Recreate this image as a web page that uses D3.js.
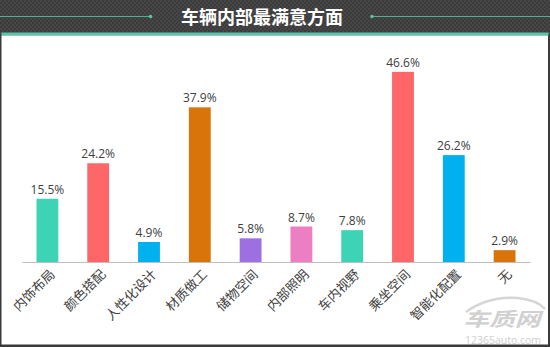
<!DOCTYPE html>
<html>
<head>
<meta charset="utf-8">
<script src="https://cdn.jsdelivr.net/npm/d3@7"></script>
<style>
  html, body { margin: 0; padding: 0; background: #3a3a3a; }
  svg { display: block; }
</style>
</head>
<body>
<svg id="chart" width="550" height="347"></svg>
<script>
// Survey: most satisfying aspects of the car interior (%)
const categories = ["内饰布局", "颜色搭配", "人性化设计", "材质做工", "储物空间", "内部照明", "车内视野", "乘坐空间", "智能化配置", "无"];
const values = [15.5, 24.2, 4.9, 37.9, 5.8, 8.7, 7.8, 46.6, 26.2, 2.9];
const barColors = ["#3dd3b5", "#fe6668", "#00b0ef", "#d9740b", "#9d6fe0", "#ee7ec3", "#3dd3b5", "#fe6668", "#00b0ef", "#d9740b"];
const title = "车辆内部最满意方面";

const W = 550, H = 347;
const svg = d3.select("#chart");
const defs = svg.append("defs");

// fine checkered texture for the header band
const pat = defs.append("pattern").attr("id", "checker")
  .attr("width", 4).attr("height", 4).attr("patternUnits", "userSpaceOnUse");
pat.append("rect").attr("width", 4).attr("height", 4).attr("fill", "#3b3b3b");
pat.append("rect").attr("width", 2).attr("height", 2).attr("fill", "#474747");
pat.append("rect").attr("x", 2).attr("y", 2).attr("width", 2).attr("height", 2).attr("fill", "#474747");

svg.append("rect").attr("width", W).attr("height", H).attr("fill", "#3a3a3a");
svg.append("rect").attr("width", W).attr("height", 34).attr("fill", "url(#checker)");

// teal strip under the header
svg.append("rect").attr("x", 1.5).attr("y", 32.5).attr("width", W - 3).attr("height", 3).attr("fill", "#52c9ab");

// white plot panel
svg.append("rect").attr("x", 1.5).attr("y", 35.5).attr("width", W - 3.5).attr("height", 309).attr("fill", "#ffffff");

// header decoration lines
const deco = svg.append("g").attr("stroke", "#4fae93").attr("stroke-width", 1.2);
deco.append("line").attr("x1", 0).attr("x2", 150).attr("y1", 16.5).attr("y2", 16.5);
deco.append("line").attr("x1", 372).attr("x2", W).attr("y1", 16.5).attr("y2", 16.5);
svg.append("circle").attr("cx", 150.5).attr("cy", 16.5).attr("r", 1.8).attr("fill", "#5cc2a4");
svg.append("circle").attr("cx", 372).attr("cy", 16.5).attr("r", 1.8).attr("fill", "#5cc2a4");

svg.append("text")
  .attr("x", 262).attr("y", 23.5)
  .attr("text-anchor", "middle")
  .attr("font-family", "'Noto Sans CJK SC', sans-serif")
  .attr("font-weight", "bold")
  .attr("font-size", 18)
  .attr("fill", "#ffffff")
  .text(title);

// scales
const x = d3.scaleBand().domain(categories).range([22, 530]).paddingInner(0.57).paddingOuter(0.285);
const y = d3.scaleLinear().domain([0, 50]).range([262, 58]);

// bars
svg.append("g").selectAll("rect")
  .data(values)
  .join("rect")
  .attr("x", (d, i) => x(categories[i]))
  .attr("y", d => y(d))
  .attr("width", x.bandwidth())
  .attr("height", d => y(0) - y(d))
  .attr("fill", (d, i) => barColors[i]);

// value labels
svg.append("g").selectAll("text")
  .data(values)
  .join("text")
  .attr("x", (d, i) => x(categories[i]) + x.bandwidth() / 2)
  .attr("y", d => y(d) - 5)
  .attr("text-anchor", "middle")
  .attr("font-family", "'Open Sans', sans-serif")
  .attr("font-size", 12)
  .attr("fill", "#404040")
  .text(d => d.toFixed(1) + "%");

// category axis
const axis = svg.append("g")
  .attr("transform", `translate(0,${y(0)})`)
  .call(d3.axisBottom(x).tickSize(0).tickSizeOuter(0));
axis.select(".domain").attr("stroke", "#bfbfbf").attr("stroke-width", 1);
axis.selectAll(".tick text")
  .attr("font-family", "'Noto Sans CJK SC', sans-serif")
  .attr("font-size", 13)
  .attr("fill", "#404040")
  .attr("text-anchor", "end")
  .attr("dy", "0.35em")
  .attr("transform", "translate(5,10) rotate(-45)")
  .attr("x", 0).attr("y", 0);

// site watermark
const wm = svg.append("g").attr("fill", "#c8c8c8").attr("opacity", 0.85);
wm.append("path")
  .attr("d", "M466,312 Q488,296 518,298 Q537,300 545,309")
  .attr("fill", "none").attr("stroke", "#d0d0d0").attr("stroke-width", 2.5);
wm.append("text")
  .attr("transform", "translate(502,326) scale(1.35,1)")
  .attr("text-anchor", "middle")
  .attr("font-family", "'Noto Sans CJK SC', sans-serif")
  .attr("font-weight", "bold")
  .attr("font-style", "italic")
  .attr("font-size", 19)
  .text("车质网");
wm.append("text")
  .attr("x", 503).attr("y", 344)
  .attr("text-anchor", "middle")
  .attr("font-family", "'Open Sans', sans-serif")
  .attr("font-size", 10.5)
  .text("12365auto.com");
</script>
</body>
</html>
